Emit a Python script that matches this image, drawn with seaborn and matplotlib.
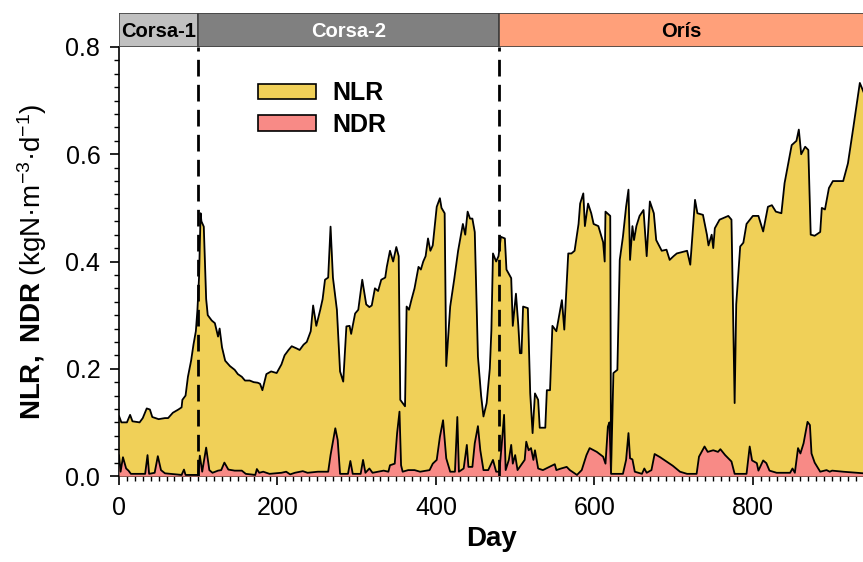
import numpy as np
import pandas as pd
import matplotlib
matplotlib.use("Agg")
import matplotlib.pyplot as plt
from matplotlib.patches import Patch
from matplotlib.ticker import MultipleLocator
import seaborn as sns

# phases of the operation (top band)
phase_names = ["Corsa-1", "Corsa-2", "Orís"]
phase_start = [0, 100, 480]
phase_end = [100, 480, 940]
phase_colors = ["#c0c0c0", "#808080", "#ffa07a"]
phase_text = ["black", "white", "black"]

# nitrogen loading rate
nlr_day = [0, 3, 10, 14, 17, 26, 30, 35, 39, 42, 50, 58, 62, 68, 75, 79, 80, 84, 87, 91,
           94, 97, 99, 101, 103, 104, 107, 110, 112, 117, 121, 125, 127, 130, 134, 140, 146, 150, 155, 159,
           165, 170, 175, 178, 181, 186, 192, 199, 205, 209, 214, 218, 224, 228, 233, 237, 242, 245, 249, 254,
           257, 260, 264, 267, 270, 275, 279, 283, 287, 291, 293, 298, 302, 307, 312, 316, 319, 323, 327, 331,
           336, 338, 342, 346, 350, 353, 355, 361, 363, 366, 369, 373, 378, 381, 384, 387, 390, 393, 396, 401,
           405, 407, 411, 413, 418, 423, 428, 434, 437, 440, 443, 446, 449, 453, 457, 460, 464, 468, 470, 472,
           476, 479, 482, 487, 489, 495, 497, 501, 504, 506, 508, 510, 516, 519, 522, 525, 529, 531, 538, 540,
           544, 547, 552, 559, 562, 567, 571, 575, 580, 582, 586, 588, 592, 596, 599, 605, 611, 613, 614, 620,
           621, 624, 629, 632, 636, 640, 643, 645, 648, 650, 653, 657, 662, 666, 670, 675, 678, 685, 691, 695,
           700, 704, 712, 717, 721, 727, 730, 737, 742, 744, 748, 750, 752, 758, 769, 773, 777, 779, 784, 788,
           792, 800, 807, 813, 819, 824, 829, 836, 840, 849, 855, 858, 861, 866, 870, 873, 878, 885, 887, 891,
           896, 901, 914, 920, 927, 935, 940]
nlr = [0.112, 0.100, 0.100, 0.114, 0.102, 0.100, 0.108, 0.126, 0.124, 0.110, 0.106, 0.108, 0.108, 0.118, 0.124, 0.128, 0.142, 0.150, 0.185, 0.215,
       0.245, 0.270, 0.310, 0.370, 0.490, 0.475, 0.465, 0.330, 0.300, 0.290, 0.285, 0.260, 0.275, 0.240, 0.215, 0.205, 0.198, 0.190, 0.185, 0.178,
       0.178, 0.175, 0.174, 0.172, 0.160, 0.190, 0.195, 0.192, 0.208, 0.225, 0.235, 0.242, 0.238, 0.235, 0.245, 0.250, 0.270, 0.318, 0.280, 0.310,
       0.330, 0.366, 0.370, 0.465, 0.370, 0.310, 0.195, 0.176, 0.279, 0.280, 0.265, 0.303, 0.310, 0.366, 0.320, 0.315, 0.318, 0.350, 0.345, 0.366,
       0.370, 0.390, 0.420, 0.400, 0.427, 0.410, 0.142, 0.130, 0.316, 0.310, 0.328, 0.350, 0.390, 0.385, 0.400, 0.410, 0.443, 0.420, 0.430, 0.502,
       0.518, 0.500, 0.490, 0.205, 0.316, 0.366, 0.420, 0.470, 0.450, 0.493, 0.480, 0.480, 0.455, 0.223, 0.150, 0.111, 0.136, 0.200, 0.272, 0.415,
       0.400, 0.410, 0.446, 0.443, 0.385, 0.369, 0.280, 0.340, 0.280, 0.229, 0.229, 0.316, 0.313, 0.154, 0.080, 0.154, 0.142, 0.090, 0.090, 0.160,
       0.160, 0.280, 0.270, 0.328, 0.273, 0.415, 0.415, 0.420, 0.470, 0.508, 0.527, 0.466, 0.508, 0.490, 0.470, 0.466, 0.436, 0.400, 0.493, 0.485,
       0.005, 0.192, 0.198, 0.403, 0.446, 0.502, 0.534, 0.403, 0.466, 0.440, 0.466, 0.485, 0.496, 0.410, 0.512, 0.490, 0.440, 0.420, 0.422, 0.403,
       0.410, 0.415, 0.418, 0.420, 0.394, 0.515, 0.490, 0.487, 0.450, 0.430, 0.450, 0.425, 0.462, 0.478, 0.485, 0.478, 0.136, 0.320, 0.428, 0.435,
       0.470, 0.485, 0.485, 0.456, 0.502, 0.505, 0.493, 0.490, 0.546, 0.617, 0.625, 0.646, 0.600, 0.614, 0.608, 0.450, 0.448, 0.455, 0.500, 0.497,
       0.537, 0.550, 0.550, 0.583, 0.652, 0.733, 0.715]

# nitrogen denitrification rate
ndr_day = [0, 2, 5, 9, 12, 15, 33, 36, 38, 45, 49, 53, 58, 79, 82, 84, 100, 102, 105, 110,
           114, 118, 125, 129, 133, 138, 146, 155, 160, 172, 174, 177, 182, 190, 205, 211, 216, 222, 232, 238,
           251, 264, 267, 273, 276, 279, 289, 292, 295, 305, 308, 311, 316, 320, 334, 340, 342, 348, 351, 354,
           356, 358, 365, 373, 380, 392, 396, 401, 405, 409, 413, 418, 424, 427, 429, 435, 439, 441, 446, 449,
           453, 456, 460, 466, 472, 476, 480, 483, 486, 488, 492, 495, 497, 500, 503, 512, 514, 517, 520, 523,
           525, 529, 535, 550, 552, 558, 565, 569, 578, 584, 590, 594, 603, 611, 614, 617, 619, 621, 636, 640,
           643, 645, 648, 651, 660, 663, 666, 672, 676, 683, 691, 699, 708, 717, 729, 732, 739, 743, 750, 756,
           759, 765, 773, 777, 792, 796, 799, 805, 807, 813, 817, 821, 830, 847, 850, 853, 857, 860, 864, 869,
           872, 874, 878, 885, 893, 897, 900, 914, 931, 940]
ndr = [0.039, 0.008, 0.035, 0.014, 0.010, 0.004, 0.004, 0.039, 0.004, 0.006, 0.037, 0.011, 0.005, 0.002, 0.012, 0.002, 0.002, 0.038, 0.008, 0.053,
       0.011, 0.006, 0.010, 0.011, 0.025, 0.012, 0.010, 0.010, 0.004, 0.002, 0.013, 0.006, 0.008, 0.004, 0.006, 0.008, 0.003, 0.006, 0.009, 0.006,
       0.008, 0.008, 0.039, 0.089, 0.067, 0.004, 0.004, 0.028, 0.004, 0.004, 0.030, 0.006, 0.014, 0.006, 0.010, 0.008, 0.020, 0.023, 0.080, 0.120,
       0.020, 0.008, 0.011, 0.011, 0.008, 0.011, 0.023, 0.030, 0.073, 0.104, 0.033, 0.008, 0.008, 0.110, 0.008, 0.014, 0.058, 0.017, 0.017, 0.061,
       0.093, 0.048, 0.011, 0.011, 0.030, 0.008, 0.008, 0.058, 0.114, 0.011, 0.030, 0.058, 0.023, 0.039, 0.011, 0.030, 0.064, 0.048, 0.052, 0.030,
       0.048, 0.014, 0.011, 0.022, 0.011, 0.014, 0.017, 0.011, 0.002, 0.011, 0.039, 0.052, 0.045, 0.036, 0.023, 0.092, 0.100, 0.004, 0.004, 0.030,
       0.080, 0.033, 0.031, 0.008, 0.004, 0.014, 0.006, 0.011, 0.041, 0.035, 0.027, 0.019, 0.008, 0.004, 0.004, 0.036, 0.055, 0.045, 0.048, 0.045,
       0.050, 0.039, 0.027, 0.004, 0.004, 0.055, 0.029, 0.024, 0.010, 0.029, 0.024, 0.010, 0.006, 0.006, 0.014, 0.006, 0.052, 0.042, 0.061, 0.101,
       0.095, 0.042, 0.025, 0.008, 0.011, 0.008, 0.010, 0.008, 0.006, 0.005]

df_nlr = pd.DataFrame({"Day": nlr_day, "NLR": nlr})
df_ndr = pd.DataFrame({"Day": ndr_day, "NDR": ndr})

sns.set_theme(style="ticks")
plt.rcParams["font.family"] = ["Liberation Sans", "DejaVu Sans"]
plt.rcParams["mathtext.fontset"] = "custom"
plt.rcParams["mathtext.rm"] = "Liberation Sans"
plt.rcParams["mathtext.bf"] = "Liberation Sans:bold"
plt.rcParams["mathtext.it"] = "Liberation Sans:italic"
plt.rcParams["text.color"] = "black"
plt.rcParams["axes.labelcolor"] = "black"
plt.rcParams["xtick.color"] = "black"
plt.rcParams["ytick.color"] = "black"

nlr_color = "#f0d058"
ndr_color = "#f88a86"

fig = plt.figure(figsize=(8.63, 5.62), dpi=100)
left = 119 / 863
bottom = 1 - 476 / 562
top = 1 - 47 / 562
ax = fig.add_axes([left, bottom, 1 - left, top - bottom])

# filled areas with black outline
ax.fill_between(df_nlr["Day"], df_nlr["NLR"], color=nlr_color, lw=0, zorder=1)
sns.lineplot(data=df_nlr, x="Day", y="NLR", color="black", lw=1.3, sort=False, ax=ax, zorder=2)
ax.fill_between(df_ndr["Day"], df_ndr["NDR"], color=ndr_color, lw=0, zorder=3)
sns.lineplot(data=df_ndr, x="Day", y="NDR", color="black", lw=1.3, sort=False, ax=ax, zorder=4)

# phase boundaries
for b in phase_start[1:]:
    ax.axvline(b, color="black", lw=2.0, linestyle=(0, (6, 3)), zorder=5)

ax.set_xlim(0, 939)
ax.set_ylim(0, 0.8)
ax.xaxis.set_major_locator(MultipleLocator(200))
ax.xaxis.set_minor_locator(MultipleLocator(10))
ax.yaxis.set_major_locator(MultipleLocator(0.2))
ax.yaxis.set_minor_locator(MultipleLocator(0.025))
ax.yaxis.set_major_formatter(matplotlib.ticker.FormatStrFormatter("%.1f"))
ax.tick_params(which="major", direction="out", length=6.5, width=1.2, labelsize=18, color="black")
ax.tick_params(axis="x", which="major", pad=8)
ax.tick_params(axis="y", which="major", pad=7)
ax.tick_params(which="minor", direction="out", length=3.5, width=1.0, color="black")
ax.spines["top"].set_visible(False)
ax.spines["right"].set_visible(False)
for s in ["left", "bottom"]:
    ax.spines[s].set_color("black")
    ax.spines[s].set_linewidth(1.2)

ax.set_xlabel("Day", fontsize=20, fontweight="bold", labelpad=4)
ax.set_ylabel(r"$\mathbf{NLR,}$ $\mathbf{NDR}$ (kgN·m$^{-3}$·d$^{-1}$)", fontsize=20, labelpad=12)

handles = [Patch(facecolor=nlr_color, edgecolor="black", lw=1.2, label="NLR"),
           Patch(facecolor=ndr_color, edgecolor="black", lw=1.2, label="NDR")]
ax.legend(handles=handles, loc="upper left", bbox_to_anchor=(0.187, 0.92), frameon=False,
          borderpad=0, borderaxespad=0, handlelength=2.3, handleheight=0.6,
          handletextpad=0.65, labelspacing=0.3, prop={"size": 18, "weight": "bold"})

# phase band on top
band = fig.add_axes([left, top, 1 - left, 34 / 562])
band.set_xlim(0, 939)
band.set_ylim(0, 1)
for name, s, e, c, tc in zip(phase_names, phase_start, phase_end, phase_colors, phase_text):
    band.axvspan(s, e, ymin=0, ymax=1, facecolor=c, edgecolor="#404040", lw=1.2)
    band.text((s + min(e, 939)) / 2, 0.46, name, ha="center", va="center",
              fontsize=14.5, fontweight="bold", color=tc)
band.axis("off")

fig.savefig("out.png", dpi=100)
